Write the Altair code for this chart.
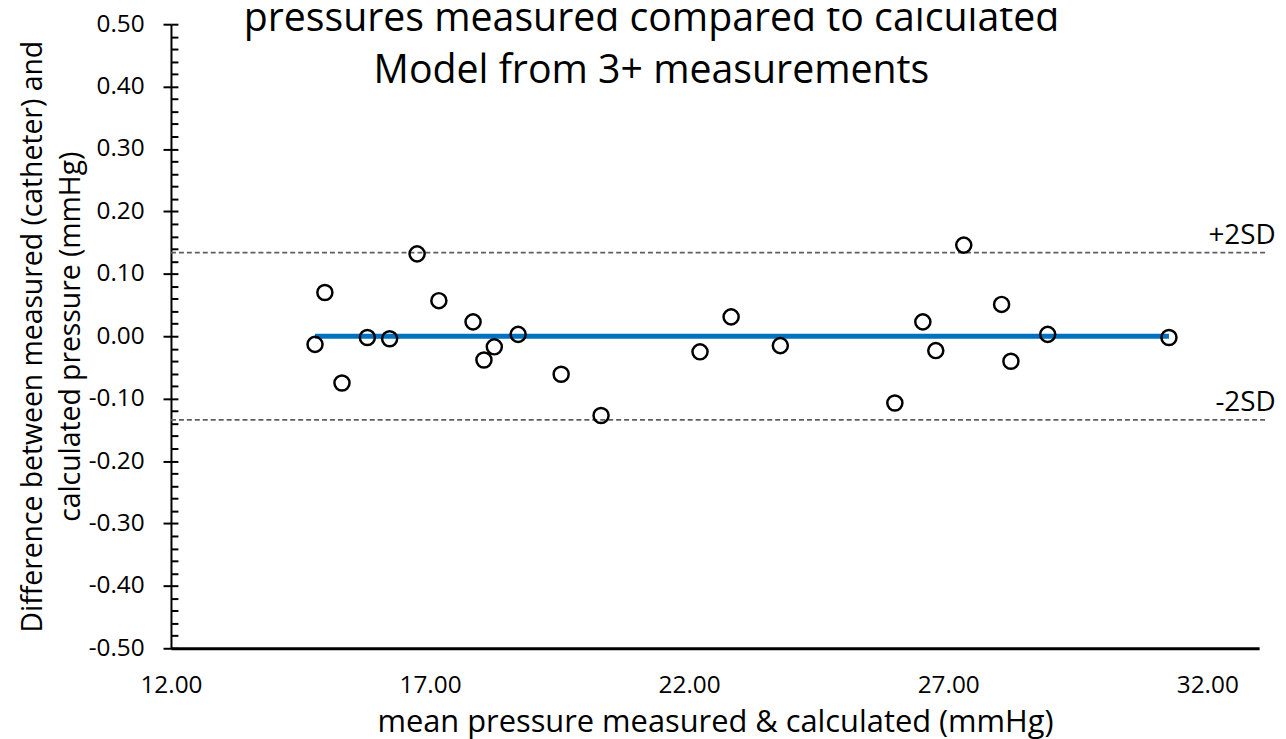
import altair as alt
import pandas as pd

# ---- data ----
mean_pressure = [14.78, 14.97, 15.30, 15.79, 16.22, 16.75, 17.17, 17.83, 18.04, 18.24, 18.70, 19.53, 20.30,
                 22.21, 22.81, 23.76, 25.97, 26.51, 26.76, 27.30, 28.03, 28.21, 28.92, 31.26]
difference = [-0.013, 0.070, -0.075, -0.002, -0.004, 0.132, 0.057, 0.023, -0.038, -0.017, 0.003, -0.061, -0.127,
              -0.025, 0.031, -0.015, -0.107, 0.023, -0.023, 0.146, 0.051, -0.040, 0.003, -0.002]
mean_diff = [0.0, 0.0]
sd_values = [0.134, -0.134]
sd_labels = ["+2SD", "-2SD"]
sd_x_start = [12.0, 12.0]
sd_x_end = [33.12, 33.12]
sd_label_x = [33.32, 33.32]

x_ticks = [12, 17, 22, 27, 32]
y_major = [-0.5, -0.4, -0.3, -0.2, -0.1, 0.0, 0.1, 0.2, 0.3, 0.4, 0.5]
y_minor = [round(-0.5 + 0.02 * i, 2) for i in range(51)]

title_lines = ["pressures measured compared to calculated", "Model from 3+ measurements"]
x_title = "mean pressure measured & calculated (mmHg)"
y_title = ["Difference between measured (catheter) and", "calculated pressure (mmHg)"]

FONT = "Open Sans"
W, H = 1095, 628
LABEL_EXPR = "replace(format(datum.value, '.2f'), '\u2212', '-')"

pts = pd.DataFrame({"x": mean_pressure, "y": difference})
mean_df = pd.DataFrame({"x": [min(mean_pressure), max(mean_pressure)], "y": mean_diff})
sd_df = pd.DataFrame({"x": sd_x_start, "x2": sd_x_end, "xl": sd_label_x, "y": sd_values, "label": sd_labels})

xscale = alt.Scale(domain=[12, 33], nice=False, zero=False)
yscale = alt.Scale(domain=[-0.5, 0.5], nice=False, zero=False)

x_axis = alt.Axis(values=x_ticks, format=".2f", ticks=False, tickSize=0, labelPadding=26,
                  labelFlush=False, labelFontSize=24.5, labelFont=FONT, labelColor="black",
                  domainColor="black", domainWidth=3, grid=False,
                  title=x_title, titleFont=FONT, titleFontSize=31, titleFontWeight="normal",
                  titleColor="black", titleY=75, titleBaseline="middle")

y_axis = alt.Axis(values=y_major, labelExpr=LABEL_EXPR, tickSize=8, tickWidth=2, tickColor="black",
                  labelPadding=19, labelFontSize=24.5, labelFont=FONT, labelColor="black",
                  labelOverlap=False, domainColor="black", domainWidth=2, grid=False,
                  title=y_title, titleFont=FONT, titleFontSize=28.5, titleFontWeight="normal",
                  titleColor="black", titleLineHeight=38, titleX=-139, titleY=H / 2,
                  titleBaseline="middle", titleAlign="center", titleAngle=270)

sd_lines = alt.Chart(sd_df).mark_rule(color="#5f5f5f", strokeWidth=1.8, strokeDash=[5, 3], clip=False).encode(
    x=alt.X("x:Q", scale=xscale, axis=x_axis),
    x2="x2:Q",
    y=alt.Y("y:Q", scale=yscale, axis=y_axis),
)

sd_text = alt.Chart(sd_df).mark_text(align="right", baseline="alphabetic", dy=-9, fontSize=28,
                                     font=FONT, color="black", clip=False).encode(
    x=alt.X("xl:Q", scale=xscale),
    y=alt.Y("y:Q", scale=yscale),
    text="label:N",
)

mean_line = alt.Chart(mean_df).mark_line(color="#0070C0", strokeWidth=5).encode(
    x=alt.X("x:Q", scale=xscale),
    y=alt.Y("y:Q", scale=yscale),
)

points = alt.Chart(pts).mark_point(shape="circle", size=230, filled=False, stroke="black",
                                   strokeWidth=2.5, opacity=1).encode(
    x=alt.X("x:Q", scale=xscale),
    y=alt.Y("y:Q", scale=yscale),
)

minor_axis = alt.Chart(pts).mark_point(opacity=0).encode(
    x=alt.X("x:Q", scale=xscale, axis=x_axis),
    y=alt.Y("y:Q", scale=yscale,
            axis=alt.Axis(orient="left", offset=-7, values=y_minor, tickSize=7, tickWidth=2,
                          tickColor="black", labels=False, domain=False, grid=False, title=None)),
)

main = alt.layer(sd_lines, mean_line, points, sd_text)

chart = alt.layer(main, minor_axis).resolve_axis(y="independent").properties(
    width=W, height=H,
    autosize=alt.AutoSizeParams(type="none"),
    padding={"left": 164, "top": 14, "right": 19, "bottom": 89},
    background="white",
    title=alt.Title(title_lines, font=FONT, fontSize=39.5, fontWeight="normal", color="black",
                    lineHeight=53, anchor="middle", frame="group", dx=-64, dy=112, offset=0,
                    baseline="alphabetic"),
).configure_view(stroke=None)

chart.save("out.html", embed_options={"renderer": "svg", "actions": False})
